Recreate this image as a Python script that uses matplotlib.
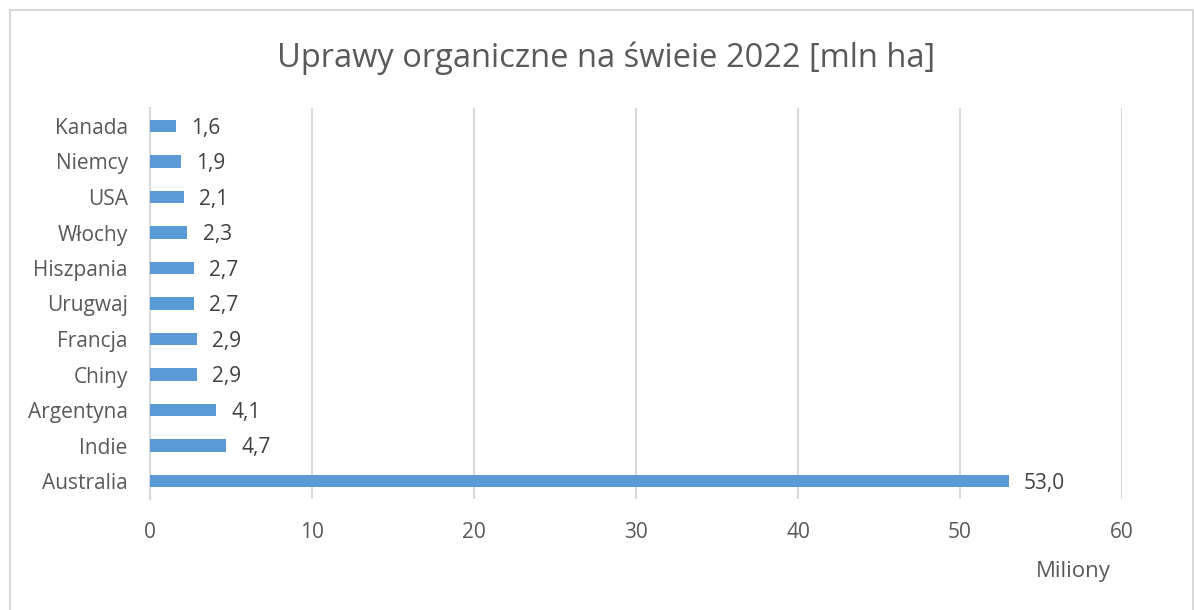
import matplotlib
matplotlib.use('Agg')
import matplotlib.pyplot as plt
from matplotlib.lines import Line2D

# data (bottom to top)
countries = ['Australia', 'Indie', 'Argentyna', 'Chiny', 'Francja', 'Urugwaj',
             'Hiszpania', 'Włochy', 'USA', 'Niemcy', 'Kanada']
values = [53.0, 4.7, 4.1, 2.9, 2.9, 2.7, 2.7, 2.3, 2.1, 1.9, 1.6]
xticks = [0, 10, 20, 30, 40, 50, 60]

plt.rcParams['font.family'] = ['Open Sans', 'DejaVu Sans']

fig = plt.figure(figsize=(11.94, 6.10), dpi=100)
ax = fig.add_axes([150/1194, 1-498.75/610, (1122-150)/1194, (498.75-108.25)/610])

pos = list(range(len(countries)))
ax.barh(pos, values, height=0.34, color='#5B9BD5', zorder=3)
for p, v in zip(pos, values):
    ax.annotate(f'{v:.1f}'.replace('.', ','), (v, p), xytext=(11, -1.5),
                textcoords='offset points', va='center', ha='left',
                fontsize=15, color='#404040')

ax.set_xlim(0, 60)
ax.set_ylim(-0.5, 10.5)
ax.set_xticks(xticks)
ax.set_yticks(pos)
ax.set_yticklabels(countries)
ax.tick_params(axis='both', length=0, labelsize=15, labelcolor='#595959')
ax.tick_params(axis='x', pad=17)
ax.tick_params(axis='y', pad=16)
ax.grid(axis='x', color='#D9D9D9', lw=1.5, zorder=0)
for s in ['top', 'right', 'bottom']:
    ax.spines[s].set_visible(False)
ax.spines['left'].set_color('#D9D9D9')
ax.spines['left'].set_linewidth(1.5)

fig.text(606/1194, 1-58/610, 'Uprawy organiczne na świeie 2022 [mln ha]',
         ha='center', va='center', fontsize=23.5, color='#595959')
fig.text(1073/1194, 1-571/610, 'Miliony', ha='center', va='center',
         fontsize=16, color='#595959')

# chart border (bottom edge is cut off)
bc = '#D9D9D9'
x0, x1, y0 = 9.5/1194, 1192.5/1194, 1-9.5/610
fig.add_artist(Line2D([x0, x1], [y0, y0], color=bc, lw=1.5, transform=fig.transFigure))
fig.add_artist(Line2D([x0, x0], [0, y0], color=bc, lw=1.5, transform=fig.transFigure))
fig.add_artist(Line2D([x1, x1], [0, y0], color=bc, lw=1.5, transform=fig.transFigure))

fig.savefig('out.png', dpi=100)
